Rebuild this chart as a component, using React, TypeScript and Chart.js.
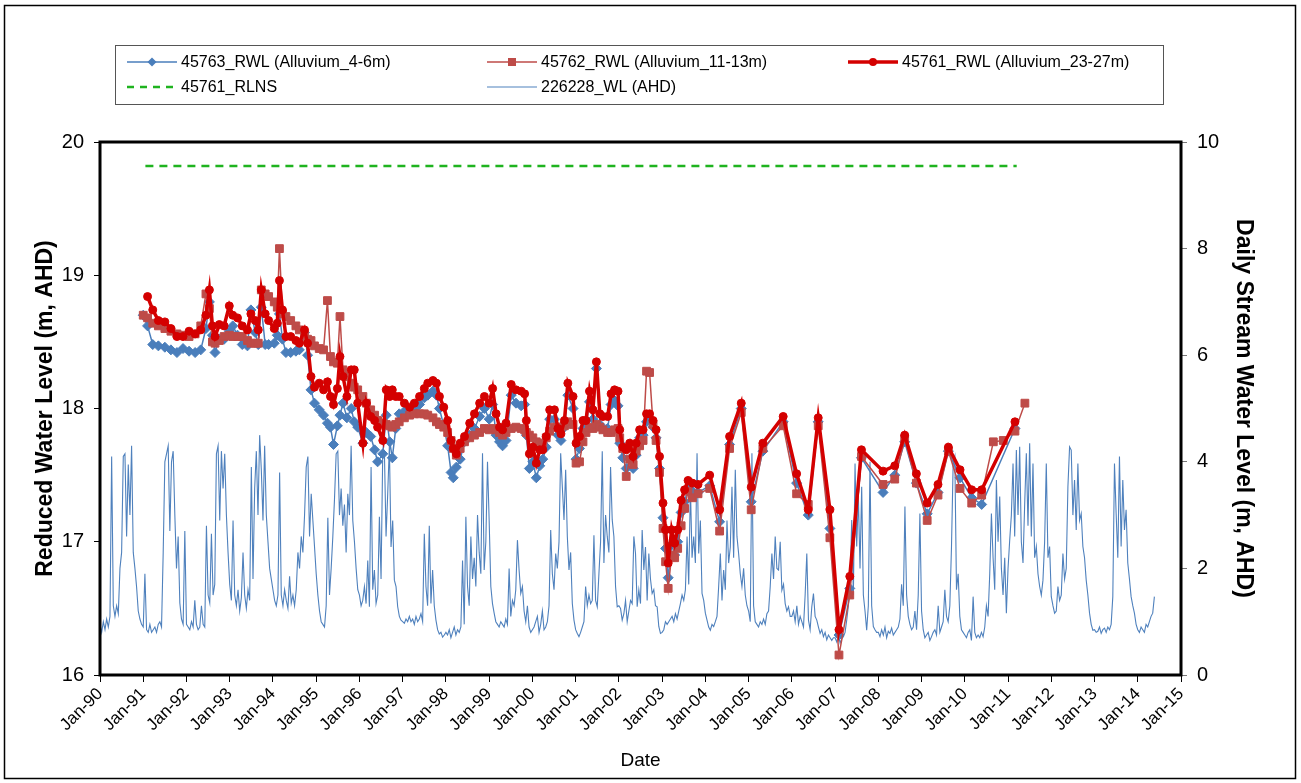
import React, { useEffect, useRef } from 'react';
import { Chart, registerables } from 'chart.js';

Chart.register(...registerables);

const FONT = '"Liberation Sans", Arial, Helvetica, sans-serif';

// ---------- X axis tick labels ----------
const xTickLabels = [
  'Jan-90', 'Jan-91', 'Jan-92', 'Jan-93', 'Jan-94', 'Jan-95', 'Jan-96', 'Jan-97', 'Jan-98',
  'Jan-99', 'Jan-00', 'Jan-01', 'Jan-02', 'Jan-03', 'Jan-04', 'Jan-05', 'Jan-06', 'Jan-07',
  'Jan-08', 'Jan-09', 'Jan-10', 'Jan-11', 'Jan-12', 'Jan-13', 'Jan-14', 'Jan-15',
];

// ---------- 226228_WL daily stream level (sampled ~every 2 weeks, 26 per year) ----------
const streamStart = 1990;
const streamPerYear = 26;
const stream1990 = [0.95, 0.8, 1.0, 0.85, 1.05, 0.9, 1.1, 4.1, 1.3, 1.1, 1.3, 1.15, 2.0, 2.3, 4.1, 4.15, 2.6, 3.95, 3.0, 4.3, 2.3, 2.0, 1.65, 1.2, 1.05, 0.95];
const stream1991 = [0.9, 1.9, 0.85, 0.8, 0.95, 0.8, 0.85, 0.9, 0.8, 0.95, 1.0, 0.9, 2.3, 4.0, 4.15, 4.3, 2.7, 4.0, 4.2, 3.0, 2.0, 2.6, 1.35, 1.05, 0.95, 2.7];
const stream1992 = [0.95, 0.9, 0.85, 1.0, 0.9, 1.4, 0.95, 0.85, 0.9, 1.3, 0.95, 0.9, 2.8, 1.5, 1.35, 2.65, 1.5, 1.7, 4.15, 4.3, 2.9, 4.2, 3.5, 4.15, 3.0, 2.3];
const stream1993 = [1.7, 1.4, 2.9, 1.5, 1.3, 1.6, 1.2, 1.45, 2.3, 1.5, 1.25, 1.6, 1.4, 3.9, 1.8, 3.5, 4.2, 3.0, 4.5, 3.85, 2.9, 4.3, 3.0, 2.5, 2.0, 1.8];
const stream1994 = [1.6, 1.4, 1.3, 1.5, 3.8, 1.5, 1.3, 1.6, 1.4, 1.25, 1.85, 1.35, 1.5, 1.3, 1.6, 2.3, 2.0, 2.6, 2.3, 3.0, 3.9, 4.1, 2.6, 3.4, 2.9, 2.4];
const stream1995 = [1.9, 1.5, 1.2, 1.0, 0.95, 0.9, 1.3, 2.95, 1.5, 2.0, 2.6, 3.3, 4.15, 4.2, 3.0, 3.5, 2.8, 3.2, 2.3, 3.4, 3.0, 4.3, 2.9, 2.5, 2.0, 1.6];
const stream1996 = [1.5, 1.3, 1.4, 1.66, 1.34, 2.15, 1.28, 3.9, 1.6, 1.97, 1.34, 1.5, 2.97, 1.8, 4.15, 4.2, 2.6, 3.4, 4.3, 2.4, 2.9, 1.78, 1.66, 1.28, 1.1, 1.03];
const stream1997 = [1.0, 0.97, 1.05, 1.0, 1.1, 1.0, 1.05, 0.95, 1.1, 1.0, 1.05, 1.15, 1.0, 2.65, 1.66, 1.3, 2.8, 1.34, 1.97, 1.3, 1.03, 0.85, 0.77, 0.8, 0.71, 0.75];
const stream1998 = [0.8, 0.75, 0.85, 0.7, 0.8, 0.9, 0.75, 0.85, 0.8, 0.9, 2.15, 0.95, 2.97, 1.66, 1.3, 2.6, 1.8, 2.2, 1.66, 3.0, 2.3, 1.9, 4.16, 1.97, 2.5, 4.0];
const stream1999 = [2.9, 1.66, 1.34, 1.16, 1.0, 0.95, 0.9, 1.0, 0.95, 0.9, 1.05, 0.95, 2.0, 1.1, 1.4, 1.3, 1.6, 2.53, 1.97, 1.53, 1.66, 1.2, 1.0, 1.3, 0.9, 0.8];
const stream2000 = [0.85, 0.9, 1.0, 1.1, 0.8, 0.95, 1.2, 0.85, 0.9, 1.0, 1.3, 2.72, 1.9, 1.6, 2.28, 2.0, 2.5, 4.16, 3.53, 2.91, 3.85, 2.6, 1.97, 2.3, 1.34, 1.03];
const stream2001 = [0.85, 0.78, 0.72, 0.8, 0.9, 1.0, 1.66, 1.3, 1.5, 1.34, 1.4, 2.62, 1.4, 1.28, 1.9, 2.5, 4.2, 2.1, 3.0, 2.6, 2.3, 3.9, 2.91, 2.6, 1.66, 1.28];
const stream2002 = [1.3, 1.25, 1.03, 1.15, 1.4, 1.0, 1.2, 1.4, 1.34, 2.6, 2.28, 1.28, 1.6, 1.34, 2.72, 1.97, 2.4, 1.4, 2.28, 1.8, 1.53, 1.6, 1.3, 1.28, 0.91, 0.78];
const stream2003 = [0.8, 0.85, 1.0, 0.95, 1.0, 1.05, 1.1, 1.0, 1.15, 1.05, 1.2, 1.34, 1.5, 1.4, 1.6, 2.6, 1.7, 3.53, 2.2, 2.6, 2.1, 4.16, 2.28, 2.9, 1.53, 1.4];
const stream2004 = [1.16, 1.03, 0.9, 0.84, 0.95, 0.91, 1.0, 1.1, 1.66, 2.28, 1.4, 1.97, 1.6, 2.9, 2.1, 2.4, 3.53, 2.2, 3.85, 2.6, 2.28, 1.9, 1.66, 2.0, 1.5, 1.3];
const stream2005 = [1.2, 1.0, 4.16, 1.3, 1.0, 0.95, 0.9, 1.0, 0.95, 1.05, 0.95, 1.15, 1.2, 1.66, 2.28, 1.8, 2.6, 2.0, 1.97, 2.5, 1.59, 1.7, 1.34, 1.2, 1.28, 1.1];
const stream2006 = [1.1, 1.2, 1.0, 1.3, 0.95, 1.1, 1.0, 0.9, 1.5, 2.28, 1.03, 0.85, 1.28, 1.53, 1.1, 1.03, 0.9, 0.78, 0.85, 0.72, 0.8, 0.66, 0.75, 0.7, 0.65, 0.7];
const stream2007 = [0.7, 0.62, 0.75, 0.6, 0.68, 0.72, 0.8, 1.03, 1.3, 1.66, 2.91, 1.5, 3.97, 2.41, 3.35, 2.0, 3.53, 1.5, 1.2, 0.84, 1.3, 4.0, 1.3, 0.91, 0.85, 0.8];
const stream2008 = [0.8, 0.72, 0.85, 0.75, 0.9, 0.7, 0.82, 0.78, 0.88, 0.75, 0.8, 0.85, 0.9, 1.05, 1.7, 1.3, 3.16, 1.5, 1.1, 0.95, 0.85, 0.9, 1.2, 0.85, 1.5, 3.03];
const stream2009 = [1.2, 0.85, 0.7, 0.75, 0.8, 0.65, 0.72, 0.8, 0.85, 0.75, 1.3, 0.8, 0.9, 1.0, 1.6, 1.1, 1.0, 1.3, 2.41, 3.97, 4.1, 1.6, 1.9, 1.1, 0.85, 0.8];
const stream2010 = [0.75, 0.7, 0.8, 0.85, 0.65, 1.47, 0.8, 0.7, 0.75, 0.7, 0.8, 0.72, 0.9, 1.3, 1.1, 1.9, 3.03, 2.2, 1.6, 3.66, 2.5, 3.35, 2.0, 1.5, 2.2, 1.16];
const stream2011 = [2.0, 2.53, 3.0, 3.97, 2.6, 4.22, 3.0, 4.28, 2.5, 2.1, 3.2, 4.16, 2.8, 4.35, 2.6, 3.97, 2.2, 2.41, 1.9, 1.66, 1.5, 1.78, 2.5, 3.97, 2.2, 2.41];
const stream2012 = [1.47, 1.3, 1.16, 1.2, 1.66, 1.4, 1.5, 2.28, 1.8, 2.0, 3.53, 4.28, 4.22, 3.0, 3.66, 2.72, 3.97, 2.9, 3.03, 2.41, 2.2, 1.78, 1.5, 1.16, 0.95, 0.84];
const stream2013 = [0.85, 0.8, 0.82, 0.9, 0.78, 0.85, 0.88, 0.8, 0.9, 0.85, 0.95, 1.47, 3.97, 3.03, 2.2, 4.1, 2.41, 3.66, 2.72, 3.1, 2.1, 1.8, 1.47, 1.3, 1.16, 0.95];
const stream2014 = [0.85, 0.8, 0.9, 0.85, 0.8, 0.95, 0.9, 1.0, 1.1, 1.16, 1.47];

const streamLevels = [
  ...stream1990, ...stream1991, ...stream1992, ...stream1993, ...stream1994, ...stream1995,
  ...stream1996, ...stream1997, ...stream1998, ...stream1999, ...stream2000, ...stream2001,
  ...stream2002, ...stream2003, ...stream2004, ...stream2005, ...stream2006, ...stream2007,
  ...stream2008, ...stream2009, ...stream2010, ...stream2011, ...stream2012, ...stream2013,
  ...stream2014,
];

// ---------- Groundwater monitoring (decimal-year dates) ----------
const gwDates = [
  1991.00, 1991.10, 1991.22, 1991.35, 1991.50, 1991.64, 1991.78, 1991.92, 1992.06, 1992.20,
  1992.33, 1992.45,
  1992.53, 1992.60, 1992.66, 1992.76, 1992.87, 1992.99, 1993.07, 1993.18, 1993.29, 1993.41,
  1993.49, 1993.59, 1993.66, 1993.73, 1993.82, 1993.90, 1994.03, 1994.10, 1994.15, 1994.22,
  1994.30, 1994.41, 1994.53, 1994.61, 1994.73, 1994.80, 1994.88, 1994.96, 1995.07, 1995.17,
  1995.26, 1995.33, 1995.40, 1995.49, 1995.55, 1995.62, 1995.71, 1995.81, 1995.88, 1995.96,
  1996.08, 1996.16, 1996.26, 1996.35, 1996.42, 1996.54, 1996.62, 1996.70, 1996.76, 1996.84,
  1996.92, 1997.04, 1997.16, 1997.27, 1997.39, 1997.50, 1997.58, 1997.70, 1997.78, 1997.85,
  1997.95, 1998.04, 1998.12, 1998.17, 1998.24, 1998.33, 1998.43, 1998.55, 1998.66, 1998.78,
  1998.89, 1999.00, 1999.08, 1999.16, 1999.24, 1999.31, 1999.39, 1999.51, 1999.62, 1999.74,
  1999.82, 1999.86, 1999.93, 2000.01, 2000.09, 2000.17, 2000.24, 2000.32, 2000.40, 2000.51,
  2000.59, 2000.66, 2000.74, 2000.82, 2000.94, 2001.01, 2001.09, 2001.17, 2001.24, 2001.32,
  2001.40, 2001.48, 2001.56, 2001.63, 2001.74, 2001.82, 2001.90, 2001.98, 2002.02, 2002.09,
  2002.17, 2002.25, 2002.33, 2002.40, 2002.48, 2002.56, 2002.64, 2002.71, 2002.79, 2002.86,
  2002.94, 2003.02, 2003.08, 2003.14, 2003.22, 2003.29, 2003.36, 2003.44, 2003.52, 2003.60,
  2003.70, 2003.83, 2004.10, 2004.33, 2004.56, 2004.83, 2005.06, 2005.33, 2005.80, 2006.11,
  2006.38, 2006.61, 2006.88, 2007.09, 2007.34, 2007.61, 2008.11, 2008.38, 2008.61, 2008.88,
  2009.13, 2009.38, 2009.62, 2009.89, 2010.16, 2010.39, 2010.66, 2010.89, 2011.16, 2011.39,
];

const rwl45763 = [
  18.70, 18.62, 18.48, 18.47, 18.46, 18.44, 18.42, 18.45, 18.43, 18.42,
  18.44, 18.60,
  18.80, 18.55, 18.42, 18.52, 18.52, 18.58, 18.62, 18.55, 18.48, 18.47,
  18.74, 18.57, 18.48, 18.76, 18.48, 18.48, 18.49, 18.55, 18.71, 18.52,
  18.42, 18.42, 18.43, 18.44, 18.57, 18.40, 18.14, 18.04, 17.99, 17.95,
  17.89, 17.86, 17.73, 17.87, 17.95, 18.04, 17.93, 18.00, 17.90, 17.86,
  17.74, 17.82, 17.79, 17.69, 17.60, 17.66, 17.95, 17.75, 17.63, 17.85,
  17.96, 17.98, 17.98, 17.99, 18.03, 18.08, 18.10, 18.13, 18.10, 18.00,
  17.87, 17.72, 17.52, 17.48, 17.56, 17.62, 17.75, 17.80, 17.85, 17.94,
  18.00, 17.92, 18.03, 17.80, 17.75, 17.72, 17.76, 18.10, 18.04, 18.02,
  18.03, 17.80, 17.55, 17.60, 17.48, 17.57, 17.62, 17.71, 17.92, 17.92,
  17.80, 17.76, 17.86, 18.10, 18.00, 17.62, 17.70, 17.85, 17.86, 18.05,
  17.92, 18.30, 17.88, 17.85, 17.85, 18.03, 18.06, 18.02, 17.74, 17.63,
  17.55, 17.62, 17.55, 17.65, 17.78, 17.80, 17.90, 17.92, 17.86, 17.78,
  17.55, 17.18, 16.95, 16.73, 16.98, 16.90, 17.00, 17.22, 17.30, 17.40,
  17.38, 17.37, 17.42, 17.15, 17.73, 18.00, 17.30, 17.68, 17.90, 17.44,
  17.20, 17.90, 17.10, 16.30, 16.65, 17.63, 17.37, 17.50, 17.75, 17.44,
  17.21, 17.37, 17.68, 17.48, 17.33, 17.28, null, null, 17.85, null,
];

const rwl45762 = [
  18.70, 18.68, 18.64, 18.62, 18.60, 18.58, 18.56, 18.55, 18.54, 18.56,
  18.62, 18.86,
  18.75, 18.50, 18.49, 18.51, 18.54, 18.55, 18.54, 18.54, 18.54, 18.51,
  18.49, 18.49, 18.49, 18.89, 18.86, 18.84, 18.80, 18.76, 19.20, 18.71,
  18.69, 18.66, 18.62, 18.59, 18.55, 18.52, 18.51, 18.47, 18.45, 18.44,
  18.81, 18.39, 18.35, 18.34, 18.69, 18.29, 18.24, 18.19, 18.16, 18.14,
  18.09, 18.04, 17.99, 17.95, 17.91, 17.89, 17.88, 17.87, 17.86, 17.88,
  17.90, 17.93, 17.95, 17.96, 17.96, 17.96, 17.95, 17.93, 17.90, 17.88,
  17.86, 17.82, 17.76, 17.70, 17.65, 17.70, 17.75, 17.78, 17.80, 17.82,
  17.85, 17.84, 17.85, 17.84, 17.82, 17.80, 17.82, 17.85, 17.86, 17.85,
  17.84, 17.82, 17.80, 17.78, 17.75, 17.73, 17.74, 17.78, 17.83, 17.86,
  17.86, 17.86, 17.87, 17.90, 17.88, 17.59, 17.60, 17.75, 17.82, 17.86,
  17.85, 17.88, 17.86, 17.84, 17.82, 17.82, 17.84, 17.85, 17.78, 17.70,
  17.49, 17.62, 17.58, 17.68, 17.72, 17.76, 18.28, 18.27, 17.88, 17.76,
  17.52, 17.10, 16.85, 16.65, 16.90, 16.88, 16.95, 17.12, 17.25, 17.38,
  17.33, 17.36, 17.40, 17.08, 17.70, 17.97, 17.24, 17.70, 17.87, 17.36,
  17.28, 17.87, 17.03, 16.15, 16.60, 17.64, 17.43, 17.47, 17.77, 17.44,
  17.16, 17.35, 17.68, 17.40, 17.29, 17.35, 17.75, 17.76, 17.83, 18.04,
];

const rwl45761 = [
  null, 18.84, 18.74, 18.66, 18.65, 18.60, 18.54, 18.54, 18.58, 18.56,
  18.59, 18.70,
  18.89, 18.62, 18.54, 18.63, 18.62, 18.77, 18.70, 18.68, 18.62, 18.59,
  18.71, 18.66, 18.59, 18.89, 18.71, 18.66, 18.60, 18.64, 18.96, 18.74,
  18.54, 18.54, 18.51, 18.49, 18.59, 18.49, 18.24, 18.16, 18.19, 18.14,
  18.20, 18.09, 18.03, 18.15, 18.39, 18.24, 18.09, 18.29, 18.29, 18.04,
  17.74, 18.04, 17.94, 17.91, 17.86, 17.76, 18.14, 18.09, 18.14, 18.09,
  18.09, 18.04, 18.01, 18.04, 18.09, 18.15, 18.19, 18.21, 18.19, 18.09,
  18.01, 17.91, 17.76, 17.70, 17.66, 17.74, 17.79, 17.89, 17.96, 18.04,
  18.09, 18.04, 18.15, 17.96, 17.86, 17.84, 17.89, 18.18, 18.14, 18.13,
  18.11, 17.91, 17.66, 17.71, 17.59, 17.69, 17.69, 17.79, 17.99, 17.99,
  17.85, 17.81, 17.91, 18.19, 18.09, 17.74, 17.79, 17.91, 17.91, 18.13,
  17.99, 18.35, 17.96, 17.94, 17.94, 18.11, 18.14, 18.13, 17.84, 17.71,
  17.69, 17.74, 17.64, 17.74, 17.84, 17.84, 17.96, 17.96, 17.91, 17.84,
  17.64, 17.29, 17.09, 16.84, 17.09, 16.99, 17.09, 17.31, 17.39, 17.46,
  17.44, 17.43, 17.50, 17.24, 17.79, 18.04, 17.41, 17.74, 17.94, 17.51,
  17.24, 17.93, 17.24, 16.34, 16.74, 17.69, 17.53, 17.57, 17.80, 17.51,
  17.29, 17.43, 17.71, 17.54, 17.39, 17.39, null, null, 17.90, null,
];

// 45761_RLNS reference level
const rlnsDates = [1991.05, 2011.2];
const rlnsLevels = [19.82, 19.82];

const BLUE = '#4a7ebb';
const BROWN = '#be4b48';
const RED = '#d40000';
const GREEN = '#1fb31f';
const STREAM = '#4f81bd';

const framePlugin = {
  id: 'frame',
  afterDatasetsDraw(chart: any) {
    const { ctx, chartArea } = chart;
    const { left, top, right, bottom } = chartArea;
    ctx.save();
    ctx.strokeStyle = '#000';
    ctx.lineWidth = 3;
    ctx.strokeRect(left, top, right - left, bottom - top);
    ctx.restore();
  },
  afterDraw(chart: any) {
    const ctx = chart.ctx;
    ctx.save();
    ctx.strokeStyle = '#000';
    ctx.lineWidth = 1.5;
    ctx.strokeRect(4.5, 5.5, 1291, 773);
    ctx.restore();
  },
};

const legendPlugin = {
  id: 'boxLegend',
  afterDraw(chart: any) {
    const ctx = chart.ctx;
    ctx.save();
    ctx.fillStyle = '#fff';
    ctx.fillRect(115, 45, 1048, 59);
    ctx.strokeStyle = '#555';
    ctx.lineWidth = 1;
    ctx.strokeRect(115.5, 45.5, 1048, 59);
    ctx.font = '16px ' + FONT;
    ctx.fillStyle = '#000';
    ctx.textBaseline = 'middle';
    ctx.textAlign = 'left';
    const ds = chart.data.datasets;
    const items = [
      { d: ds[2], x: 127, y: 62, marker: 'diamond' },
      { d: ds[1], x: 487, y: 62, marker: 'square' },
      { d: ds[0], x: 848, y: 62, marker: 'circle' },
      { d: ds[3], x: 127, y: 87, marker: 'none', dash: true },
      { d: ds[4], x: 487, y: 87, marker: 'none' },
    ];
    items.forEach((it) => {
      const c = it.d.borderColor;
      ctx.strokeStyle = c;
      ctx.fillStyle = c;
      ctx.lineWidth = it.d.borderWidth;
      ctx.setLineDash(it.dash ? [7, 6] : []);
      ctx.beginPath();
      ctx.moveTo(it.x, it.y);
      ctx.lineTo(it.x + 50, it.y);
      ctx.stroke();
      ctx.setLineDash([]);
      const mx = it.x + 25;
      ctx.beginPath();
      if (it.marker === 'diamond') {
        ctx.moveTo(mx, it.y - 4.5); ctx.lineTo(mx + 4.5, it.y); ctx.lineTo(mx, it.y + 4.5); ctx.lineTo(mx - 4.5, it.y); ctx.closePath(); ctx.fill();
      } else if (it.marker === 'square') {
        ctx.rect(mx - 4, it.y - 4, 8, 8); ctx.fill();
      } else if (it.marker === 'circle') {
        ctx.arc(mx, it.y, 4, 0, Math.PI * 2); ctx.fill();
      }
      ctx.fillStyle = '#000';
      ctx.fillText(it.d.label, it.x + 54, it.y + 1);
    });
    ctx.restore();
  },
};

export default function App() {
  const ref = useRef<HTMLCanvasElement>(null);

  useEffect(() => {
    const canvas = ref.current;
    if (!canvas) return;
    const streamData = streamLevels.map((v, i) => ({ x: streamStart + i / streamPerYear, y: v }));
    const pts = (vals: (number | null)[]) => gwDates.map((d, i) => ({ x: d, y: vals[i] }));
    const rlnsData = rlnsDates.map((d, i) => ({ x: d, y: rlnsLevels[i] }));

    const chart = new Chart(canvas, {
      type: 'line',
      data: {
        datasets: [
          {
            label: '45761_RWL (Alluvium_23-27m)',
            data: pts(rwl45761),
            yAxisID: 'y',
            borderColor: RED,
            backgroundColor: RED,
            borderWidth: 3.5,
            pointStyle: 'circle',
            pointRadius: 4,
            pointBorderWidth: 1,
            spanGaps: true,
            order: 1,
          },
          {
            label: '45762_RWL (Alluvium_11-13m)',
            data: pts(rwl45762),
            yAxisID: 'y',
            borderColor: BROWN,
            backgroundColor: BROWN,
            borderWidth: 1.5,
            pointStyle: 'rect',
            pointRadius: 5.5,
            pointBorderWidth: 1,
            spanGaps: true,
            order: 2,
          },
          {
            label: '45763_RWL (Alluvium_4-6m)',
            data: pts(rwl45763),
            yAxisID: 'y',
            borderColor: BLUE,
            backgroundColor: BLUE,
            borderWidth: 1.5,
            pointStyle: 'rectRot',
            pointRadius: 5,
            pointBorderWidth: 1,
            spanGaps: true,
            order: 3,
          },
          {
            label: '45761_RLNS',
            data: rlnsData,
            yAxisID: 'y',
            borderColor: GREEN,
            backgroundColor: GREEN,
            borderWidth: 2.5,
            borderDash: [8, 6],
            pointRadius: 0,
            order: 0,
          },
          {
            label: '226228_WL (AHD)',
            data: streamData,
            yAxisID: 'y2',
            borderColor: STREAM,
            backgroundColor: STREAM,
            borderWidth: 1.1,
            pointRadius: 0,
            order: 10,
          },
        ],
      },
      options: {
        responsive: false,
        maintainAspectRatio: false,
        animation: false,
        devicePixelRatio: 1,
        layout: { padding: { top: 142, left: 0, right: 0, bottom: 0 } },
        plugins: { legend: { display: false }, tooltip: { enabled: false }, title: { display: false } },
        scales: {
          x: {
            type: 'linear',
            position: 'bottom',
            min: 1990,
            max: 2015,
            afterFit: (s: any) => { s.height = 108; },
            ticks: {
              stepSize: 1,
              autoSkip: false,
              maxTicksLimit: 100,
              minRotation: 45,
              maxRotation: 45,
              color: '#000',
              padding: 2,
              font: { size: 17, family: FONT },
              callback: (v: any) => xTickLabels[Math.round(Number(v) - 1990)],
            },
            grid: { drawOnChartArea: false, drawTicks: true, tickLength: 7, color: '#000', lineWidth: 1 },
            border: { display: false },
            title: {
              display: true,
              text: 'Date',
              color: '#000',
              font: { size: 19, family: FONT },
              padding: { top: 0, bottom: 11 },
            },
          },
          y: {
            type: 'linear',
            position: 'left',
            min: 16,
            max: 20,
            afterFit: (s: any) => { s.width = 100; },
            ticks: { stepSize: 1, color: '#000', padding: 10, font: { size: 20, family: FONT } },
            grid: { drawOnChartArea: false, drawTicks: true, tickLength: 6, color: '#000', lineWidth: 1 },
            border: { display: false },
            title: {
              display: true,
              text: 'Reduced Water Level (m, AHD)',
              color: '#000',
              font: { size: 23, weight: 'bold', family: FONT },
              padding: { top: 32, bottom: 0 },
            },
          },
          y2: {
            type: 'linear',
            position: 'right',
            min: 0,
            max: 10,
            afterFit: (s: any) => { s.width = 120; },
            ticks: { stepSize: 2, color: '#000', padding: 10, font: { size: 20, family: FONT } },
            grid: { drawOnChartArea: false, drawTicks: true, tickLength: 6, color: '#777', lineWidth: 1 },
            border: { display: false },
            title: {
              display: true,
              text: 'Daily Stream Water Level (m, AHD)',
              color: '#000',
              font: { size: 23, weight: 'bold', family: FONT },
              padding: { top: 44, bottom: 0 },
            },
          },
        },
      },
      plugins: [framePlugin, legendPlugin],
    } as any);

    return () => chart.destroy();
  }, []);

  return (
    <div style={{ position: 'absolute', left: 0, top: 0, width: 1301, height: 783, background: '#fff' }}>
      <canvas ref={ref} width={1301} height={783} style={{ display: 'block', width: 1301, height: 783 }} />
    </div>
  );
}
